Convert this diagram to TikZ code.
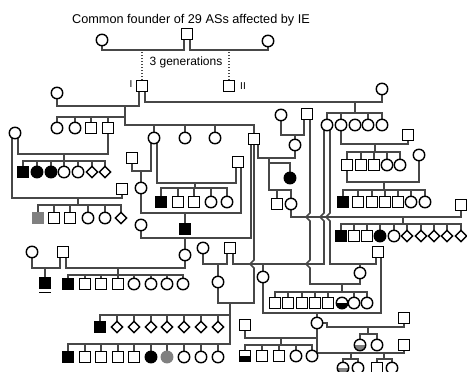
\documentclass[tikz,border=0pt]{standalone}
\usepackage{fontspec}
\setmainfont{Liberation Sans}
\usetikzlibrary{shapes.geometric,backgrounds}

\tikzset{
  ln/.style={draw=black!72, line width=1.6pt},
  dotline/.style={draw=black!72, line width=1.6pt, dash pattern=on 1.5pt off 1.5pt},
  male/.style={draw, line width=1.4pt, fill=white, rectangle, minimum size=10.5pt, inner sep=0pt},
  female/.style={draw, line width=1.4pt, fill=white, circle, minimum size=11.5pt, inner sep=0pt},
  unknown/.style={draw, line width=1.4pt, fill=white, diamond, minimum size=12pt, inner sep=0pt},
  aff/.style={fill=black},
  greyaff/.style={fill=black!50, draw=black!50},
  halfblack/.style={path picture={\fill[black] (path picture bounding box.west) rectangle (path picture bounding box.south east);}},
  halfgrey/.style={path picture={\fill[black!50] (path picture bounding box.west) rectangle (path picture bounding box.south east);}},
}

\begin{document}
\begin{tikzpicture}[x=1pt, y=-1pt]
  \useasboundingbox (0,0) rectangle (467,372);

  % founders
  \node (title) at (191,20) {\fontsize{12.7}{15}\selectfont Common founder of 29 ASs affected by IE};
  \node[female] (fa) at (102,40) {};
  \node[male] (fb) at (187,34) {};
  \node[female] (fc) at (268,41) {};
  \node (gen) at (186,62) {\fontsize{12}{14}\selectfont 3 generations};
  \node[male] (pI) at (142,86) {};
  \node[male] (pII) at (229,86) {};
  \node (lI) at (131,84) {\fontsize{10}{12}\selectfont I};
  \node (lII) at (243,86) {\fontsize{10}{12}\selectfont II};

  % generation I
  \node[female] (w1) at (57,93) {};
  \node[female] (w2) at (382,89) {};
  \node[female] (c1) at (57,128) {};
  \node[female] (c2) at (75,128) {};
  \node[male] (c3) at (91,128) {};
  \node[male] (c4) at (108,128) {};
  \node[female] (c5) at (154,138) {};
  \node[female] (c6) at (185,138) {};
  \node[female] (c7) at (215,138) {};
  \node[male] (c8) at (254,139) {};
  \node[female] (d1) at (327,125) {};
  \node[female] (d2) at (341,125) {};
  \node[female] (d3) at (355,125) {};
  \node[female] (d4) at (368,125) {};
  \node[female] (d5) at (382,125) {};

  % left branch
  \node[female] (s1) at (15,133) {};
  \node[male, aff] (k1) at (23,172) {};
  \node[female, aff] (k2) at (37,172) {};
  \node[female, aff] (k3) at (51,172) {};
  \node[female] (k4) at (64,172) {};
  \node[female] (k5) at (78,172) {};
  \node[unknown] (k6) at (92,172) {};
  \node[unknown] (k7) at (105,172) {};
  \node[male] (s2) at (122,189) {};
  \node[male, greyaff] (m1) at (38,218) {};
  \node[male] (m2) at (54,218) {};
  \node[male] (m3) at (70,218) {};
  \node[female] (m4) at (88,218) {};
  \node[female] (m5) at (105,218) {};
  \node[unknown] (m6) at (121,218) {};

  % branch of c5
  \node[male] (s3) at (132,158) {};
  \node[female] (n1) at (141,188) {};
  \node[male] (s4) at (238,162) {};
  \node[male, aff] (o1) at (161,202) {};
  \node[male] (o2) at (178,202) {};
  \node[male] (o3) at (194,202) {};
  \node[female] (o4) at (211,202) {};
  \node[female] (o5) at (227,202) {};
  \node[male, aff] (p1) at (185,229) {};
  \node[female] (s5) at (141,225) {};
  \node[female] (q1) at (185,255) {};
  \node[female] (s6) at (32,252) {};
  \node[male] (s7) at (63,252) {};
  \node[male, aff] (r0) at (45,283) {};
  \node[male, aff] (r1) at (68,284) {};
  \node[male] (r2) at (85,284) {};
  \node[male] (r3) at (101,284) {};
  \node[male] (r4) at (118,284) {};
  \node[female] (r5) at (134,284) {};
  \node[female] (r6) at (151,284) {};
  \node[female] (r7) at (167,284) {};
  \node[female] (r8) at (183,284) {};
  \draw[line width=1.8pt] ([yshift=-3.5pt]r0.south west) -- ([yshift=-3.5pt]r0.south east);

  % middle
  \node[female] (s8) at (203,248) {};
  \node[male] (s9) at (230,248) {};
  \node[female] (t1) at (218,282) {};
  \node[male, aff] (u0) at (100,327) {};
  \node[unknown] (u1) at (117,327) {};
  \node[unknown] (u2) at (134,327) {};
  \node[unknown] (u3) at (151,327) {};
  \node[unknown] (u4) at (167,327) {};
  \node[unknown] (u5) at (184,327) {};
  \node[unknown] (u6) at (201,327) {};
  \node[unknown] (u7) at (218,327) {};
  \node[male, aff] (v1) at (68,357) {};
  \node[male] (v2) at (85,357) {};
  \node[male] (v3) at (101,357) {};
  \node[male] (v4) at (118,357) {};
  \node[male] (v5) at (134,357) {};
  \node[female, aff] (v6) at (151,357) {};
  \node[female, greyaff] (v7) at (167,357) {};
  \node[female] (v8) at (184,357) {};
  \node[female] (v9) at (201,357) {};
  \node[female] (v10) at (218,357) {};

  % right branch
  \node[female] (s10) at (281,115) {};
  \node[male] (s11) at (307,114) {};
  \node[female] (s12) at (295,145) {};
  \node[female, aff] (g1) at (290,178) {};
  \node[male] (g2) at (277,204) {};
  \node[female] (g3) at (291,204) {};
  \node[male] (s13) at (408,135) {};
  \node[male] (h1) at (347,165) {};
  \node[male] (h2) at (361,165) {};
  \node[male] (h3) at (374,165) {};
  \node[female] (h4) at (387,165) {};
  \node[female] (h5) at (400,165) {};
  \node[female] (s14) at (419,155) {};
  \node[male, aff] (i1) at (343,202) {};
  \node[male] (i2) at (358,202) {};
  \node[male] (i3) at (372,202) {};
  \node[male] (i4) at (385,202) {};
  \node[male] (i5) at (398,202) {};
  \node[female] (i6) at (411,202) {};
  \node[female] (i7) at (425,202) {};
  \node[male] (s15) at (461,205) {};
  \node[male, aff] (j1) at (341,236) {};
  \node[male] (j2) at (354,236) {};
  \node[male] (j3) at (367,236) {};
  \node[female, aff] (j4) at (380,236) {};
  \node[female] (j5) at (394,236) {};
  \node[unknown] (j6) at (407,236) {};
  \node[unknown] (j7) at (421,236) {};
  \node[unknown] (j8) at (434,236) {};
  \node[unknown] (j9) at (447,236) {};
  \node[unknown] (j10) at (461,236) {};

  % lower right
  \node[male] (s16) at (378,252) {};
  \node[female] (l1) at (360,273) {};
  \node[female] (l2) at (263,277) {};
  \node[male] (x1) at (275,303) {};
  \node[male] (x2) at (288,303) {};
  \node[male] (x3) at (302,303) {};
  \node[male] (x4) at (315,303) {};
  \node[male] (x5) at (328,303) {};
  \node[female, halfblack] (x6) at (342,303) {};
  \node[female] (x7) at (354,303) {};
  \node[female] (x8) at (367,303) {};
  \node[female] (y1) at (317,323) {};
  \node[male] (s17) at (404,318) {};
  \node[female, halfgrey] (z1) at (360,345) {};
  \node[female] (z2) at (377,345) {};
  \node[male] (s18) at (245,325) {};
  \node[male, halfblack] (e1) at (245,356) {};
  \node[male] (e2) at (262,356) {};
  \node[male] (e3) at (279,356) {};
  \node[female] (e4) at (296,356) {};
  \node[female] (e5) at (312,356) {};
  \node[male] (s19) at (404,345) {};
  \node[female, halfgrey] (a1) at (343,368) {};
  \node[female] (a2) at (358,368) {};
  \node[male] (a3) at (377,368) {};
  \node[female] (a4) at (392,368) {};

  \coordinate (kI) at (125,106);
  \coordinate (kII) at (355,102);
  \coordinate (kA) at (64,154);
  \coordinate (kB) at (78,198);
  \coordinate (kC) at (195,183);
  \coordinate (kD) at (118,268);
  \coordinate (kE) at (269,158);
  \coordinate (kF) at (403,217);
  \coordinate (kG) at (375,144);
  \coordinate (kH) at (384,182);
  \coordinate (kJ) at (342,284);
  \coordinate (kK) at (368,327);
  \coordinate (kL) at (281,338);
  \coordinate (kM) at (351,353);
  \coordinate (kN) at (384,353);
  \coordinate (kP) at (230,303);

  \begin{scope}[on background layer]
    % founders
    \draw[ln] (fa.center) -- ++(0,10) -| ([xshift=-3pt]fb.center);
    \draw[ln] (fc.center) -- ++(0,9) -| ([xshift=3pt]fb.center);
    \draw[dotline] (pI.center) -- ++(0,-36);
    \draw[dotline] (pII.center) -- ++(0,-36);

    % generation I
    \draw[ln] ([xshift=-3pt]pI.center) -- ++(0,20) -| (w1.center);
    \draw[ln] ([xshift=3pt]pI.center) -- ++(0,16) -| (w2.center);
    \draw[ln] (c1.center) -- ++(0,-11) -| (kI);
    \draw[ln] (c8.center) -- ++(0,-14) -| (kI);
    \draw[ln] (c2.center) -- ++(0,-11) (c3.center) -- ++(0,-11) (c4.center) -- ++(0,-11) (c5.center) -- ++(0,-13) (c6.center) -- ++(0,-13) (c7.center) -- ++(0,-13);
    \draw[ln] (d1.center) -- ++(0,-12) -| (d5.center);
    \draw[ln] (kII) -- ++(0,11) (d2.center) -- ++(0,-12) (d4.center) -- ++(0,-12);

    % left branch
    \draw[ln] (c4.center) -- ++(0,26) -| ([xshift=3pt]s1.center);
    \draw[ln] (k1.center) -- ++(0,-11) -| (k7.center);
    \draw[ln] (kA) -- ++(0,7) (k2.center) -- ++(0,-11) (k3.center) -- ++(0,-11) (k4.center) -- ++(0,-11) (k5.center) -- ++(0,-11) (k6.center) -- ++(0,-11);
    \draw[ln] ([xshift=-3pt]s1.center) -- ++(0,65) -| (s2.center);
    \draw[ln] (m1.center) -- ++(0,-13) -| (m6.center);
    \draw[ln] (kB) -- ++(0,7) (m2.center) -- ++(0,-13) (m3.center) -- ++(0,-13) (m4.center) -- ++(0,-13) (m5.center) -- ++(0,-13);

    % branch of c5
    \draw[ln] ([xshift=-3pt]c5.center) -- ++(0,33) -| (s3.center);
    \draw[ln] (n1.center) -- ++(0,-17);
    \draw[ln] ([xshift=3pt]c5.center) -- ++(0,45) -| ([xshift=-2pt]s4.center);
    \draw[ln] (o1.center) -- ++(0,-14) -| (o5.center);
    \draw[ln] (kC) -- ++(0,5) (o2.center) -- ++(0,-14) (o3.center) -- ++(0,-14) (o4.center) -- ++(0,-14);
    \draw[ln] (n1.center) -- ++(0,25) -| ([xshift=3pt]s4.center);
    \draw[ln] (p1.center) -- ++(0,-16);
    \draw[ln] (s5.center) -- ++(0,13) -| ([xshift=-3pt]c8.center);
    \draw[ln] (q1.center) -- ++(0,-17);
    \draw[ln] (q1.center) -- ++(0,13) -| ([xshift=3pt]s7.center);
    \draw[ln] (s6.center) -- ++(0,16) -| ([xshift=-3pt]s7.center);
    \draw[ln] (r0.center) -- ++(0,-15);
    \draw[ln] (r1.center) -- ++(0,-9) -| (r8.center);
    \draw[ln] (kD) -- ++(0,7) (r2.center) -- ++(0,-9) (r3.center) -- ++(0,-9) (r4.center) -- ++(0,-9) (r5.center) -- ++(0,-9) (r6.center) -- ++(0,-9) (r7.center) -- ++(0,-9);

    % middle
    \draw[ln] (s8.center) -- ++(0,16) -| ([xshift=-3pt]s9.center);
    \draw[ln] (t1.center) -- ++(0,-18);
    \draw[ln] (c8.center) -- ++(0,121) -- ++(-4,4) -- ++(4,4) -- ++(0,35) -| (t1.center);
    \draw[ln] (u0.center) -- ++(0,-12) -| (kP);
    \draw[ln] (v1.center) -- ++(0,-13) -| (kP);
    \draw[ln] (u1.center) -- ++(0,-12) (u2.center) -- ++(0,-12) (u3.center) -- ++(0,-12) (u4.center) -- ++(0,-12) (u5.center) -- ++(0,-12) (u6.center) -- ++(0,-12) (u7.center) -- ++(0,-12);
    \draw[ln] (v2.center) -- ++(0,-13) (v3.center) -- ++(0,-13) (v4.center) -- ++(0,-13) (v5.center) -- ++(0,-13) (v6.center) -- ++(0,-13) (v7.center) -- ++(0,-13) (v8.center) -- ++(0,-13) (v9.center) -- ++(0,-13) (v10.center) -- ++(0,-13);

    % right branch
    \draw[ln] (s10.center) -- ++(0,20) -| ([xshift=-3pt]s11.center);
    \draw[ln] (s12.center) -- ++(0,-10);
    \draw[ln] ([xshift=4pt]c8.center) -- ++(0,19) -| (s12.center);
    \draw[ln] (kE) -- ++(0,5) -| (g1.center);
    \draw[ln] (kE) -- ++(0,32) -| (g3.center);
    \draw[ln] (g2.center) -- ++(0,-14);
    \draw[ln] (g3.center) -- ++(0,13) -| (s15.center);
    \draw[ln] (j1.center) -- ++(0,-12) -| (j10.center);
    \draw[ln] (kF) -- ++(0,7) (j2.center) -- ++(0,-12) (j3.center) -- ++(0,-12) (j4.center) -- ++(0,-12) (j5.center) -- ++(0,-12) (j6.center) -- ++(0,-12) (j7.center) -- ++(0,-12) (j8.center) -- ++(0,-12) (j9.center) -- ++(0,-12);
    \draw[ln] (d2.center) -- ++(0,19) -| (s13.center);
    \draw[ln] (h1.center) -- ++(0,-13) -| (h5.center);
    \draw[ln] (kG) -- ++(0,8) (h2.center) -- ++(0,-13) (h3.center) -- ++(0,-13) (h4.center) -- ++(0,-13);
    \draw[ln] (h1.center) -- ++(0,17) -| (s14.center);
    \draw[ln] (i1.center) -- ++(0,-12) -| (i7.center);
    \draw[ln] (kH) -- ++(0,8) (i2.center) -- ++(0,-12) (i3.center) -- ++(0,-12) (i4.center) -- ++(0,-12) (i5.center) -- ++(0,-12) (i6.center) -- ++(0,-12);

    % long legs with crossings
    \draw[ln] ([xshift=3pt]s11.center) -- ++(0,99) -- ++(-4,4) -- ++(4,4) -- ++(0,39) -- ++(-4,4) -- ++(4,4) -- ++(0,16) -| (l1.center);
    \draw[ln] ([xshift=-3pt]d1.center) -- ++(0,88) -- ++(-4,4) -- ++(4,4) -- ++(0,43) -| ([xshift=3pt]s9.center);
    \draw[ln] ([xshift=3pt]d1.center) -- ++(0,88) -- ++(-4,4) -- ++(4,4) -- ++(0,43) -| ([xshift=-2pt]s16.center);

    % lower right
    \draw[ln] (l1.center) -- ++(0,-9);
    \draw[ln] (l2.center) -- ++(0,-13);
    \draw[ln] (x1.center) -- ++(0,-11) -| (x8.center);
    \draw[ln] (kJ) -- ++(0,8) (x2.center) -- ++(0,-11) (x3.center) -- ++(0,-11) (x4.center) -- ++(0,-11) (x5.center) -- ++(0,-11) (x7.center) -- ++(0,-11);
    \draw[ln] (l2.center) -- ++(0,36) -| ([xshift=3pt]s16.center);
    \draw[ln] (y1.center) -- ++(0,-10);
    \draw[ln] (y1.center) -- ++(10,0) -- ++(0,4) -| (s17.center);
    \draw[ln] (z1.center) -- ++(0,-11) -| (z2.center);
    \draw[ln] (kK) -- ++(0,7);
    \draw[ln] (y1.center) -- ++(0,15) -| (s18.center);
    \draw[ln] (e1.center) -- ++(0,-11) -| (e5.center);
    \draw[ln] (kL) -- ++(0,7) (e2.center) -- ++(0,-11) (e3.center) -- ++(0,-11) (e4.center) -- ++(0,-11);
    \draw[ln] (y1.center) -- ++(0,30) -| (s19.center);
    \draw[ln] (a1.center) -- ++(0,-9) -| (a2.center);
    \draw[ln] (a3.center) -- ++(0,-9) -| (a4.center);
    \draw[ln] (kM) -- ++(0,6) (kN) -- ++(0,6);
  \end{scope}
\end{tikzpicture}
\end{document}
